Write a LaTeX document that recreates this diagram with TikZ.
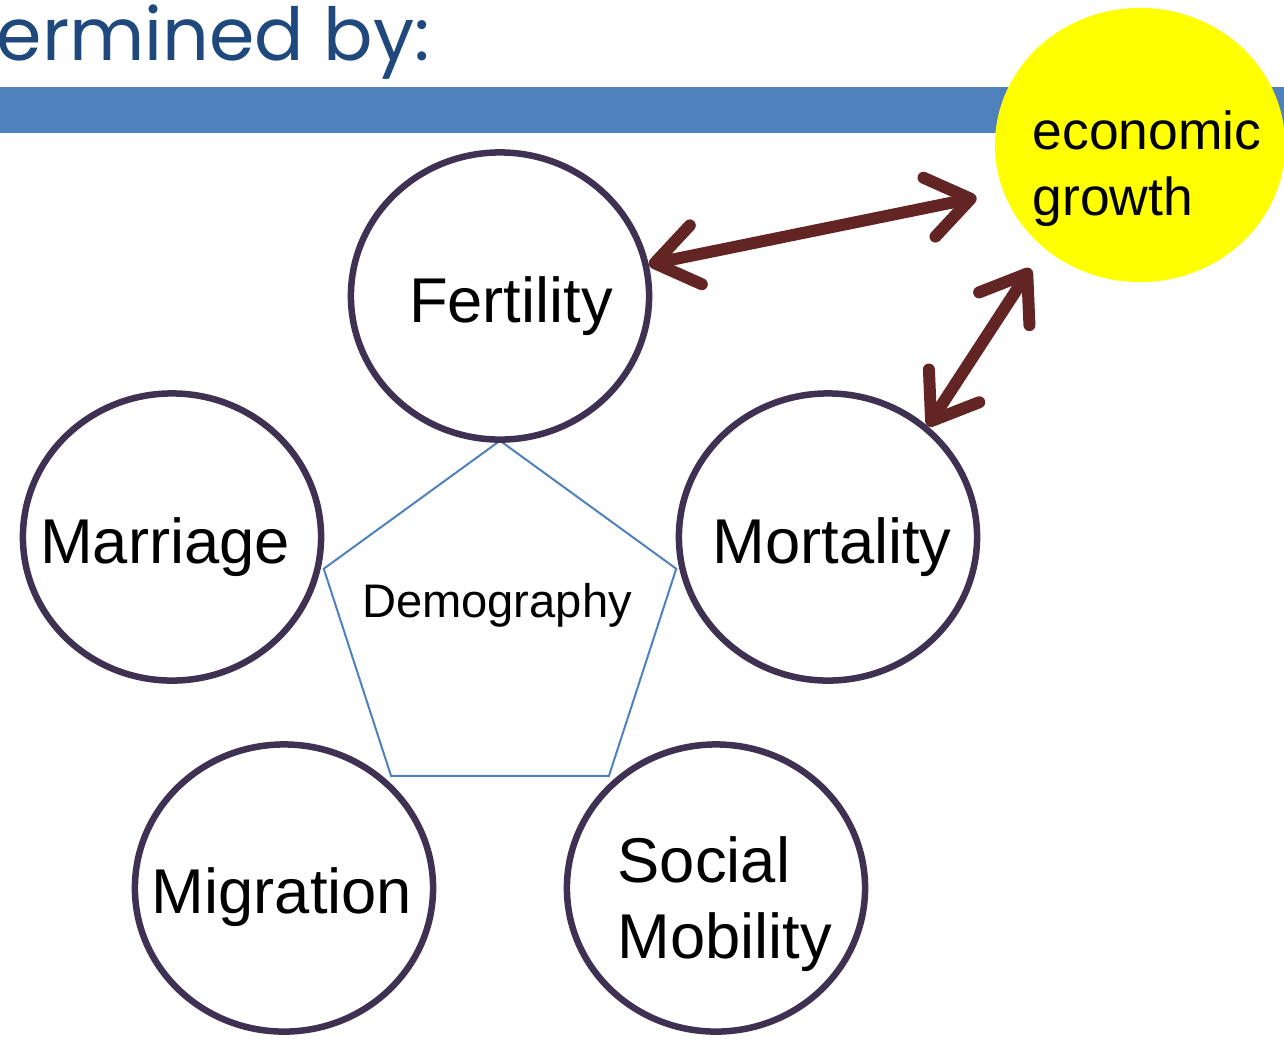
\documentclass[tikz,border=0pt]{standalone}
\usepackage{fontspec}
\setmainfont{Liberation Sans}
\newfontfamily\headfont{Poppins}
\usetikzlibrary{arrows.meta,shapes.geometric}
\definecolor{ringpurple}{HTML}{3F3151}
\definecolor{arrowred}{HTML}{632523}
\definecolor{barblue}{HTML}{4F81BD}
\definecolor{headblue}{HTML}{1F497D}
\definecolor{sunyellow}{HTML}{FFFF00}

\tikzset{
  bubble/.style={ellipse, draw=ringpurple, line width=0.065cm, minimum width=2.98cm, minimum height=2.87cm, inner sep=0pt},
  word/.style={font=\fontsize{18}{21.6}\selectfont, anchor=base, inner sep=0pt},
  link/.style={draw=arrowred, line width=0.12cm, {Straight Barb[round,length=0.42cm,width=0.6cm]}-{Straight Barb[round,length=0.42cm,width=0.6cm]}}
}

\begin{document}
\begin{tikzpicture}[x=0.01cm, y=-0.01cm]
        \useasboundingbox (0,0) rectangle (1284,1038);

        % heading and bar
        \node[anchor=base west, inner sep=0pt, text=headblue, font=\headfont\fontsize{20.8}{24}\selectfont] (head) at (-4,60) {ermined by:};
        \fill[barblue] (0,87) rectangle (1284,133);

        % pentagon in the middle
        \node[regular polygon, regular polygon sides=5, draw=barblue, line width=0.02cm, minimum size=3.704cm, inner sep=0pt] (pent) at (500,626) {};
        \node[word, font=\fontsize{13.4}{16}\selectfont] (demotxt) at (497,617) {Demography};

        % the five circles
        \node[bubble] (fert) at (500,296) {};
        \node[bubble] (marr) at (172,537) {};
        \node[bubble] (mort) at (828,537) {};
        \node[bubble] (migr) at (284,888) {};
        \node[bubble] (soc) at (716,888) {};

        \node[word] (ferttxt) at (511,322) {Fertility};
        \node[word] (marrtxt) at (165,563) {Marriage};
        \node[word] (morttxt) at (832,563) {Mortality};
        \node[word] (migrtxt) at (282,913) {Migration};
        \node[word, anchor=base west, align=left] (soctxt) at (617,958) {Social\\Mobility};

        % economic growth
        \node[ellipse, fill=sunyellow, minimum width=2.9cm, minimum height=2.74cm, inner sep=0pt] (econ) at (1140,145) {};
        \node[anchor=base west, align=left, inner sep=0pt, font=\fontsize{15.2}{18.5}\selectfont] (econtxt) at (1032,215) {economic\\growth};

        \draw[link, shorten >=0.27cm] (fert.12) -- (econ.199);
        \draw[link, shorten >=0.24cm] (mort.48) -- (econ.227);

    \end{tikzpicture}
\end{document}
